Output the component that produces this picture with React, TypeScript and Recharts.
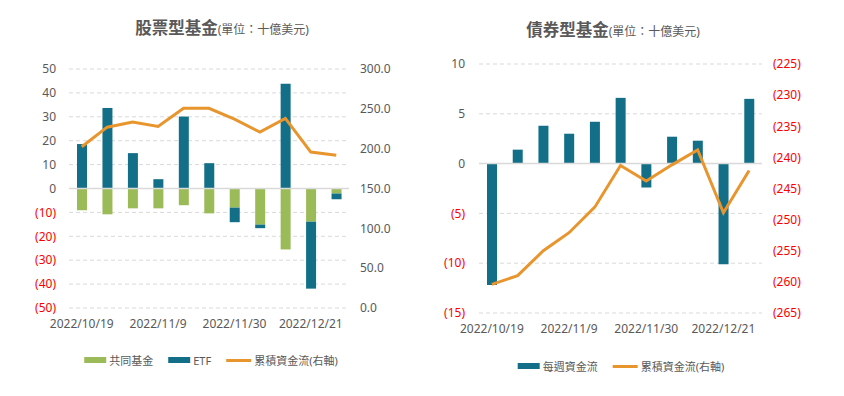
import React from "react";
import { ComposedChart, Bar, Line, XAxis, YAxis, CartesianGrid, ReferenceLine } from "recharts";

const dates = [
  "2022/10/19", "2022/10/26", "2022/11/2", "2022/11/9", "2022/11/16", "2022/11/23",
  "2022/11/30", "2022/12/7", "2022/12/14", "2022/12/21", "2022/12/28",
];

// 股票型基金
const mutualFund = [-9.1, -10.8, -8.3, -8.3, -7.0, -10.4, -8.0, -15.1, -25.5, -13.9, -2.1];
const etf = [18.6, 33.7, 14.8, 3.9, 30.1, 10.6, -6.1, -1.5, 43.8, -28.0, -2.4];
const equityCumulative = [202.4, 227, 233.4, 228, 250.6, 250.6, 237, 220.8, 238, 195.7, 191.6];
const equityLeftTicks = [50, 40, 30, 20, 10, 0, -10, -20, -30, -40, -50];
const equityRightTicks = [0, 50, 100, 150, 200, 250, 300];

// 債券型基金
const bondWeekly = [-12.2, 1.4, 3.8, 3.0, 4.2, 6.6, -2.4, 2.7, 2.3, -10.1, 6.5];
const bondCumulative = [-260.4, -259.0, -255.0, -252.1, -248.0, -241.3, -243.8, -241.2, -238.8, -248.9, -242.1];
const bondLeftTicks = [10, 5, 0, -5, -10, -15];
const bondRightTicks = [-225, -230, -235, -240, -245, -250, -255, -260, -265];

const GREEN = "#9BBB59";
const TEAL = "#126F87";
const ORANGE = "#E8952E";
const GRAY = "#595959";
const GRID = "#D9D9D9";
const FONT = "'Noto Sans', 'Noto Sans CJK TC', sans-serif";

const equityData = dates.map((date, i) => ({
  date,
  mutualFund: mutualFund[i],
  etf: etf[i],
  cumulative: equityCumulative[i],
}));

const bondData = dates.map((date, i) => ({
  date,
  weekly: bondWeekly[i],
  cumulative: bondCumulative[i],
}));

function AxisTick(props: any) {
  const { x, y, payload, textAnchor, decimals = 0 } = props;
  const v = Number(payload.value);
  const abs = Math.abs(v).toFixed(decimals);
  const label = v < 0 ? `(${abs})` : abs;
  return (
    <text x={x} y={y} dy="0.355em" textAnchor={textAnchor} fontSize={12} fontFamily={FONT} fill={v < 0 ? "#FF0000" : GRAY}>
      {label}
    </text>
  );
}

function DateTick(props: any) {
  const { x, y, payload } = props;
  return (
    <text x={x} y={y} dy="0.8em" textAnchor="middle" fontSize={12} fontFamily={FONT} fill={GRAY}>
      {payload.value}
    </text>
  );
}

function Title({ main, center, top }: { main: string; center: number; top: number }) {
  return (
    <div style={{ position: "absolute", left: center, top, transform: "translateX(-50%)", whiteSpace: "nowrap", color: GRAY, fontFamily: FONT }}>
      <span style={{ fontSize: 16.5, fontWeight: 700 }}>{main}</span>
      <span style={{ fontSize: 12 }}>(單位：十億美元)</span>
    </div>
  );
}

function LegendRow({ items, center, top }: { items: { label: string; color: string; line?: boolean }[]; center: number; top: number }) {
  return (
    <div style={{ position: "absolute", left: center, top, transform: "translateX(-50%)", display: "flex", alignItems: "center", gap: 15, whiteSpace: "nowrap", fontFamily: FONT, fontSize: 11, color: GRAY }}>
      {items.map((it) => (
        <div key={it.label} style={{ display: "flex", alignItems: "center", gap: 3 }}>
          <span style={{ display: "inline-block", width: it.line ? 25 : 22, height: it.line ? 3 : 6, background: it.color }} />
          <span>{it.label}</span>
        </div>
      ))}
    </div>
  );
}

function EquityChart() {
  return (
    <ComposedChart width={422} height={340} data={equityData} stackOffset="sign" margin={{ top: 69, right: 0, bottom: 2, left: 0 }}>
      <CartesianGrid vertical={false} strokeDasharray="4 3" stroke={GRID} />
      <XAxis dataKey="date" interval={2} axisLine={false} tickLine={false} height={30} tickMargin={4} tick={<DateTick />} />
      <YAxis domain={[-50, 50]} ticks={equityLeftTicks} width={69} axisLine={false} tickLine={false} tickMargin={7} tick={<AxisTick />} />
      <YAxis yAxisId="right" orientation="right" domain={[0, 300]} ticks={equityRightTicks} width={73} axisLine={false} tickLine={false} tickMargin={5} tick={<AxisTick decimals={1} />} />
      <ReferenceLine y={0} stroke={GRID} strokeWidth={1.5} />
      <Bar dataKey="mutualFund" name="共同基金" stackId="a" fill={GREEN} barSize={10} isAnimationActive={false} />
      <Bar dataKey="etf" name="ETF" stackId="a" fill={TEAL} barSize={10} isAnimationActive={false} />
      <Line yAxisId="right" dataKey="cumulative" name="累積資金流(右軸)" stroke={ORANGE} strokeWidth={3} dot={false} isAnimationActive={false} />
    </ComposedChart>
  );
}

function BondChart() {
  return (
    <ComposedChart width={422} height={345} data={bondData} margin={{ top: 64, right: 0, bottom: 2, left: 0 }}>
      <CartesianGrid vertical={false} strokeDasharray="4 3" stroke={GRID} />
      <XAxis dataKey="date" interval={2} axisLine={false} tickLine={false} height={30} tickMargin={4} tick={<DateTick />} />
      <YAxis domain={[-15, 10]} ticks={bondLeftTicks} width={57} axisLine={false} tickLine={false} tickMargin={8} tick={<AxisTick />} />
      <YAxis yAxisId="right" orientation="right" domain={[-265, -225]} ticks={bondRightTicks} width={82} axisLine={false} tickLine={false} tickMargin={5} tick={<AxisTick />} />
      <ReferenceLine y={0} stroke={GRID} strokeWidth={1.5} />
      <Bar dataKey="weekly" name="每週資金流" fill={TEAL} barSize={10} isAnimationActive={false} />
      <Line yAxisId="right" dataKey="cumulative" name="累積資金流(右軸)" stroke={ORANGE} strokeWidth={3} dot={false} isAnimationActive={false} />
    </ComposedChart>
  );
}

export default function App() {
  return (
    <div style={{ position: "absolute", left: 0, top: 0, width: 844, height: 396, background: "#fff", overflow: "hidden" }}>
      <div style={{ position: "absolute", left: 0, top: 0 }}>
        <EquityChart />
      </div>
      <div style={{ position: "absolute", left: 422, top: 0 }}>
        <BondChart />
      </div>
      <Title main="股票型基金" center={222} top={15} />
      <Title main="債券型基金" center={613} top={17} />
      <LegendRow
        center={211}
        top={352}
        items={[
          { label: "共同基金", color: GREEN },
          { label: "ETF", color: TEAL },
          { label: "累積資金流(右軸)", color: ORANGE, line: true },
        ]}
      />
      <LegendRow
        center={621}
        top={358}
        items={[
          { label: "每週資金流", color: TEAL },
          { label: "累積資金流(右軸)", color: ORANGE, line: true },
        ]}
      />
    </div>
  );
}
